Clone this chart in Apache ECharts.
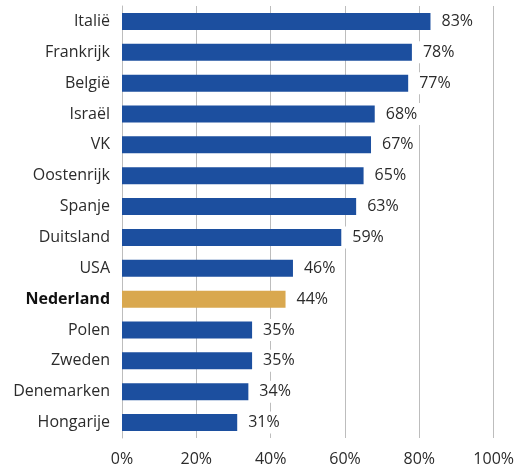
<!DOCTYPE html>
<html>
<head>
<meta charset="utf-8">
<script src="https://cdn.jsdelivr.net/npm/echarts@6/dist/echarts.min.js"></script>
<style>
  html, body { margin: 0; padding: 0; background: #fff; }
  #chart { width: 517px; height: 468px; }
</style>
</head>
<body>
<div id="chart"></div>
<script>
// landen van boven naar onder
const landen = ["Italië", "Frankrijk", "België", "Israël", "VK", "Oostenrijk", "Spanje",
  "Duitsland", "USA", "Nederland", "Polen", "Zweden", "Denemarken", "Hongarije"];
const percentages = [83, 78, 77, 68, 67, 65, 63, 59, 46, 44, 35, 35, 34, 31];
const xTicks = [0, 20, 40, 60, 80, 100];

const blauw = "#1c4f9f";
const goud = "#d9a84f";
const font = "Open Sans";

const chart = echarts.init(document.getElementById("chart"));

chart.setOption({
  animation: false,
  grid: {
    top: 6,
    left: 122,
    right: 23,
    bottom: 30,
    containLabel: false,
  },
  xAxis: {
    type: "value",
    min: xTicks[0],
    max: xTicks[xTicks.length - 1],
    interval: 20,
    axisLine: { show: false },
    axisTick: { show: false },
    splitLine: { show: true, lineStyle: { color: "#bdbdbd", width: 1 } },
    axisLabel: {
      formatter: "{value}%",
      color: "#2b2b2b",
      fontFamily: font,
      fontSize: 16,
      margin: 13,
    },
  },
  yAxis: {
    type: "category",
    inverse: true,
    data: landen,
    axisLine: { show: true, lineStyle: { color: "#bdbdbd" } },
    axisTick: { show: false },
    axisLabel: {
      color: "#2b2b2b",
      fontFamily: font,
      fontSize: 16,
      margin: 12,
      formatter: (v) => (v === "Nederland" ? "{b|" + v + "}" : v),
      rich: {
        b: { fontWeight: "bold", color: "#111", fontFamily: font, fontSize: 16 },
      },
    },
  },
  series: [
    {
      type: "bar",
      barWidth: 17,
      data: percentages.map((v, i) => ({
        value: v,
        itemStyle: { color: landen[i] === "Nederland" ? goud : blauw },
      })),
      label: {
        show: true,
        position: "right",
        distance: 2,
        formatter: "{c}%",
        color: "#2b2b2b",
        fontFamily: font,
        fontSize: 16,
        backgroundColor: "#fff",
        padding: [5, 3, 1, 9],
      },
    },
  ],
});
</script>
</body>
</html>
